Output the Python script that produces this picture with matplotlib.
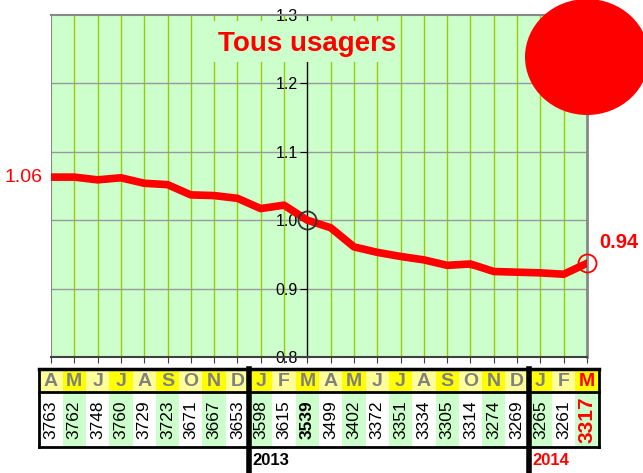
import matplotlib
matplotlib.use("Agg")
import matplotlib.pyplot as plt
from matplotlib.patches import Ellipse, Rectangle
import numpy as np

plt.rcParams['font.family'] = ['Liberation Sans', 'DejaVu Sans']

# data
months = ["A", "M", "J", "J", "A", "S", "O", "N", "D",
          "J", "F", "M", "A", "M", "J", "J", "A", "S", "O", "N", "D",
          "J", "F", "M"]
counts = [3763, 3762, 3748, 3760, 3729, 3723, 3671, 3667, 3653,
          3598, 3615, 3539, 3499, 3402, 3372, 3351, 3334, 3305, 3314, 3274, 3269,
          3265, 3261, 3317]
index_thick = [1.063, 1.063, 1.059, 1.062, 1.054, 1.052, 1.037, 1.036, 1.032,
               1.017, 1.022, 1.000, 0.989, 0.961, 0.953, 0.947, 0.942, 0.934, 0.936,
               0.925, 0.924, 0.923, 0.921, 0.937]
index_thin = [1.063, 1.063, 1.060, 1.061, 1.054, 1.051, 1.038, 1.036, 1.031,
              1.018, 1.019, 1.001, 0.986, 0.962, 0.953, 0.947, 0.942, 0.935, 0.931,
              0.926, 0.924, 0.923, 0.922, 0.937]
yticks = [0.8, 0.9, 1.0, 1.1, 1.2, 1.3]
years = ["2013", "2014"]

W, H = 643, 473
x = np.arange(len(months))
ref = 11

fig = plt.figure(figsize=(W / 100, H / 100), dpi=100)
ax = fig.add_axes([51 / W, (H - 357) / H, 536 / W, 342 / H])
ax.set_facecolor("#CCFFCC")
ax.set_xlim(0, len(months) - 1)
ax.set_ylim(0.8, 1.3)

# grid
for xi in x[1:-1]:
    if xi != ref:
        ax.axvline(xi, color="#99CC00", lw=1, zorder=1)
for yv in yticks[1:-1]:
    ax.axhline(yv, color="#999999", lw=1, zorder=1)

# spines
ax.spines["left"].set_position(("data", ref))
ax.spines["left"].set_color("black")
ax.spines["left"].set_linewidth(1)
ax.spines["top"].set_color("#888888")
ax.spines["top"].set_linewidth(1.5)
ax.spines["right"].set_color("#888888")
ax.spines["right"].set_linewidth(2)
ax.spines["bottom"].set_color("#404040")
ax.spines["bottom"].set_linewidth(1.5)
ax.axvline(0, color="#888888", lw=1.5, zorder=2)

ax.set_xticks(x)
ax.set_xticklabels([])
ax.tick_params(axis="x", direction="out", length=4, color="#404040")
ax.set_yticks(yticks)
ax.set_yticklabels(["%.1f" % v for v in yticks], fontsize=11.5)
ax.tick_params(axis="y", direction="out", length=5, pad=2, color="black")

# title box hides grid
ax.add_patch(Rectangle(((213 - 51) / 536, (357 - 62) / 342), 187 / 536, 41 / 342,
                       transform=ax.transAxes, facecolor="#CCFFCC", edgecolor="none", zorder=3))
ax.text(ref, 1.258, "Tous usagers", color="red", fontsize=20, fontweight="bold",
        ha="center", va="center", zorder=6)

# lines
ax.plot(x, index_thick, color="red", lw=5.5, zorder=4, solid_joinstyle="round")
ax.plot(x, index_thin, color="red", lw=1.2, zorder=4)
ax.plot(x[ref], index_thick[ref], "o", mfc="none", mec="#333333", ms=13, mew=1.3, zorder=5)
ax.plot(x[-1], index_thick[-1], "o", mfc="none", mec="red", ms=13, mew=1.3, zorder=5, clip_on=False)

ax.annotate("%.2f" % index_thick[0], (x[0], index_thick[0]), xytext=(-6, 0),
            textcoords="offset points", ha="right", va="center", color="red", fontsize=14)
ax.annotate("%.2f" % index_thick[-1], (x[-1], index_thick[-1]), xytext=(9, 15),
            textcoords="offset points", ha="left", va="center", color="red",
            fontsize=14.5, fontweight="bold")

# table below
tax = fig.add_axes([39.35 / W, 0, 559.3 / W, 104 / H])
tax.set_xlim(-0.5, len(months) - 0.5)
tax.set_ylim(104, 0)
tax.axis("off")

month_colors = ["#FFFF00" if i % 2 else "#FFFF99" for i in x]
value_colors = ["#CCFFCC" if i % 2 else "white" for i in x]
tax.bar(x, 23, bottom=0, width=1, color=month_colors)
tax.bar(x, 55, bottom=23, width=1, color=value_colors)

for i in x:
    last = i == len(months) - 1
    tax.text(i, 12, months[i], ha="center", va="center", fontsize=14, fontweight="bold",
             color="red" if last else "#808080")
    if last:
        tax.text(i, 50.5, str(counts[i]), rotation=90, ha="center", va="center",
                 fontsize=15, fontweight="bold", color="red")
    else:
        tax.text(i, 50.5, str(counts[i]), rotation=90, ha="center", va="center",
                 fontsize=12.5, fontweight="bold" if i == ref else "normal", color="black")

tax.plot([-0.5, 23.5], [0, 0], color="black", lw=2.5, clip_on=False)
tax.plot([-0.5, 23.5], [23, 23], color="black", lw=2, clip_on=False)
tax.plot([-0.5, 23.5], [78, 78], color="black", lw=2, clip_on=False)
tax.plot([-0.5, -0.5], [0, 78], color="black", lw=2, clip_on=False)
tax.plot([23.5, 23.5], [0, 78], color="black", lw=2, clip_on=False)
tax.plot([8.5, 8.5], [0, 104], color="black", lw=4, clip_on=False)
tax.plot([20.5, 20.5], [0, 104], color="black", lw=4, clip_on=False)
tax.text(8.65, 91, years[0], ha="left", va="center", fontsize=12, fontweight="bold", color="black")
tax.text(20.65, 91, years[1], ha="left", va="center", fontsize=12, fontweight="bold", color="red")

# big red dot
fig.patches.append(Ellipse((587 / W, (H - 57) / H), 124 / W, 116 / H,
                           transform=fig.transFigure, facecolor="red", edgecolor="none", zorder=10))

fig.savefig("out.png", dpi=100)
